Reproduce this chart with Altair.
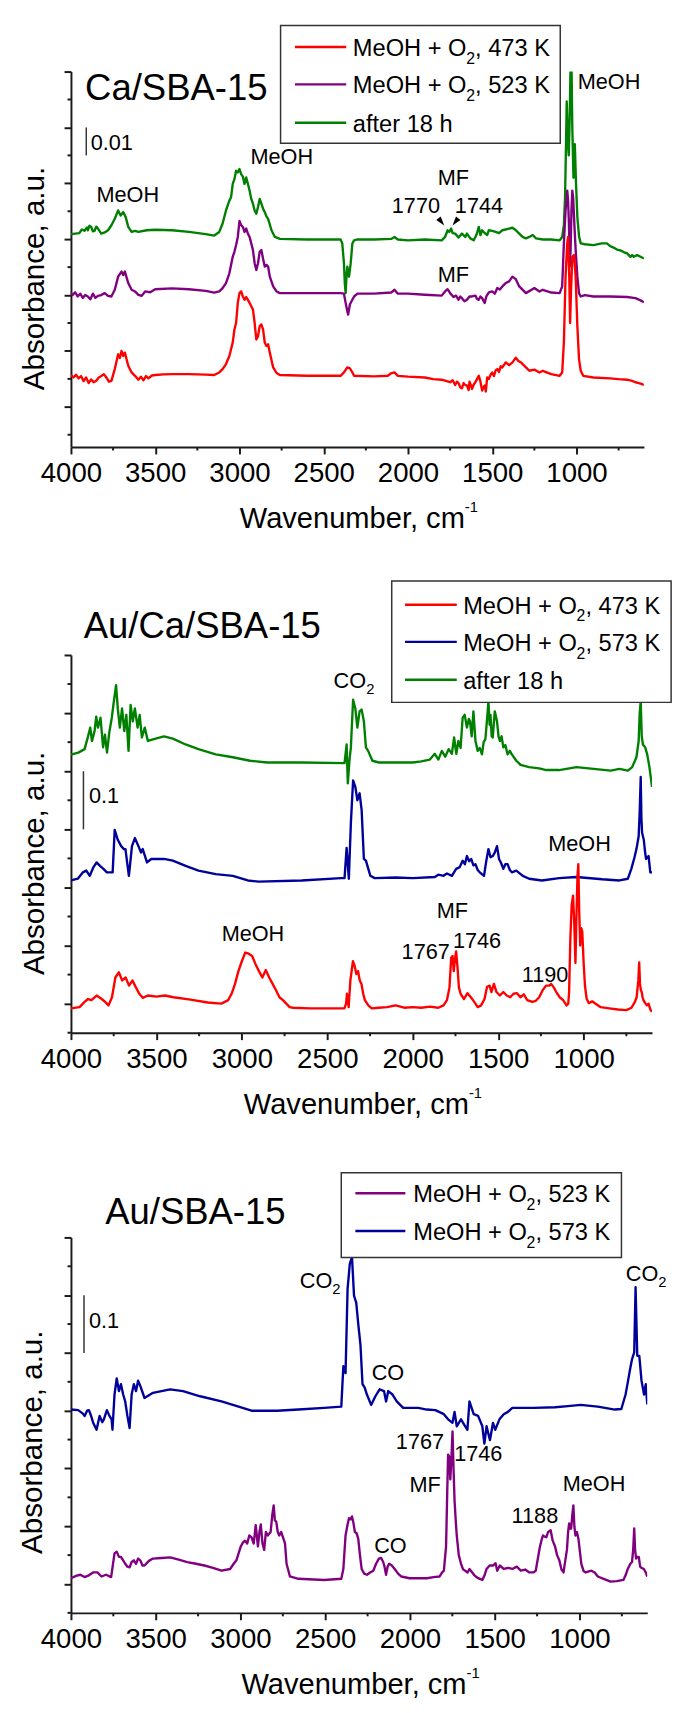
import altair as alt
import pandas as pd

FONT = "Liberation Sans"
INK = "#1a1a1a"

# ---------------- axis ticks ----------------
X_LABELED = [4000, 3500, 3000, 2500, 2000, 1500, 1000]
X_MINOR = [3750, 3250, 2750, 2250, 1750, 1250, 750]

# ---------------- panel 1 : Ca/SBA-15 (units of 0.01 a.u.) ----------------
P1_RED = [(4000,1.14),(3985,1.05),(3970,1.15),(3955,1.02),(3940,1.1),(3925,0.92),(3910,1.05),(3895,0.85),(3880,0.98),(3865,0.88),(3850,0.93),(3835,1.05),(3820,1.1),(3805,1.17),(3790,1.05),(3775,0.9),(3760,0.93),(3740,1.35),(3720,1.88),(3710,1.75),(3700,2.0),(3690,1.82),(3680,1.94),(3670,1.7),(3660,1.47),(3640,1.23),(3620,1.11),(3600,0.97),(3585,1.08),(3570,0.95),(3555,1.1),(3540,1.02),(3520,1.12),(3500,1.14),(3450,1.16),(3400,1.17),(3300,1.17),(3200,1.15),(3150,1.14),(3120,1.23),(3100,1.35),(3080,1.53),(3060,1.82),(3040,2.3),(3030,2.77),(3020,3.0),(3010,3.72),(3000,4.07),(2990,4.13),(2980,3.95),(2970,3.83),(2960,3.93),(2950,3.83),(2940,3.72),(2930,3.6),(2920,3.48),(2910,3.0),(2900,2.41),(2890,2.53),(2880,2.89),(2870,2.95),(2860,2.77),(2850,2.3),(2840,2.18),(2830,2.24),(2820,1.94),(2800,1.41),(2780,1.21),(2760,1.14),(2600,1.11),(2400,1.11),(2380,1.23),(2360,1.41),(2345,1.38),(2330,1.23),(2320,1.11),(2200,1.09),(2120,1.11),(2100,1.2),(2080,1.23),(2060,1.11),(2000,1.08),(1900,1.05),(1850,0.99),(1800,0.97),(1750,0.88),(1735,0.95),(1720,0.78),(1710,0.9),(1700,0.85),(1690,0.7),(1680,0.66),(1670,0.85),(1665,0.8),(1650,0.76),(1640,0.6),(1635,0.9),(1625,0.75),(1620,0.64),(1610,0.8),(1600,0.88),(1590,1.0),(1580,1.11),(1570,0.9),(1560,0.58),(1552,0.7),(1545,0.76),(1538,0.55),(1530,1.05),(1520,1.0),(1510,1.15),(1500,1.23),(1490,1.1),(1480,1.3),(1470,1.35),(1460,1.25),(1450,1.45),(1440,1.41),(1420,1.59),(1400,1.49),(1380,1.59),(1360,1.76),(1345,1.64),(1330,1.59),(1300,1.41),(1280,1.29),(1250,1.33),(1220,1.23),(1200,1.29),(1150,1.17),(1100,1.11),(1085,1.23),(1075,2.3),(1065,4.66),(1055,5.85),(1050,6.08),(1043,4.66),(1038,3.0),(1033,4.07),(1025,5.37),(1015,5.43),(1005,4.66),(995,2.89),(985,1.7),(975,1.29),(960,1.11),(900,1.05),(800,1.02),(750,0.99),(700,0.97),(670,0.93),(650,0.88),(630,0.85),(615,0.82),(600,0.78)]
P1_PURPLE = [(4000,4.07),(3990,4.0),(3975,4.1),(3960,3.95),(3945,4.05),(3930,3.9),(3915,4.0),(3900,3.95),(3885,3.85),(3870,4.05),(3855,3.9),(3840,3.97),(3820,4.0),(3800,4.07),(3780,3.97),(3760,3.95),(3740,4.19),(3720,4.66),(3700,4.84),(3690,4.72),(3680,4.84),(3660,4.43),(3640,4.19),(3620,4.13),(3600,4.01),(3580,3.97),(3560,4.13),(3530,4.1),(3500,4.21),(3400,4.24),(3300,4.21),(3200,4.15),(3150,4.09),(3120,4.13),(3100,4.25),(3080,4.43),(3060,4.78),(3040,5.37),(3030,5.55),(3020,5.79),(3010,6.08),(3000,6.65),(2990,6.5),(2980,6.44),(2970,6.26),(2960,6.38),(2950,6.2),(2940,6.08),(2930,5.85),(2920,5.61),(2910,5.14),(2900,4.9),(2890,5.14),(2880,5.55),(2870,5.61),(2860,5.3),(2850,5.02),(2840,5.08),(2830,5.02),(2820,4.66),(2800,4.31),(2780,4.13),(2760,4.07),(2600,4.07),(2400,4.07),(2380,4.05),(2370,3.72),(2360,3.42),(2355,3.3),(2345,3.66),(2335,3.78),(2320,3.95),(2300,4.05),(2200,4.05),(2100,4.09),(2080,4.19),(2060,4.05),(2000,4.05),(1900,4.01),(1800,3.98),(1780,4.13),(1765,4.21),(1750,4.07),(1730,3.93),(1715,3.98),(1700,3.83),(1690,3.95),(1680,3.89),(1665,3.78),(1650,3.83),(1635,3.95),(1620,3.95),(1600,3.98),(1590,3.86),(1580,3.83),(1570,3.95),(1560,3.89),(1545,3.72),(1535,3.95),(1520,4.1),(1500,4.13),(1485,4.05),(1470,4.25),(1455,4.2),(1440,4.31),(1420,4.43),(1400,4.49),(1380,4.66),(1360,4.57),(1340,4.31),(1300,4.07),(1250,4.25),(1220,4.13),(1200,4.19),(1150,4.09),(1100,4.07),(1085,4.31),(1075,5.85),(1065,7.03),(1055,7.74),(1050,7.38),(1045,6.56),(1040,5.02),(1035,5.61),(1030,7.03),(1025,7.74),(1020,7.5),(1012,6.44),(1005,5.61),(995,4.66),(985,4.07),(975,3.95),(950,4.0),(900,3.95),(800,3.95),(700,3.93),(650,3.89),(620,3.81),(600,3.74)]
P1_GREEN = [(4000,6.18),(3950,6.22),(3935,6.35),(3920,6.3),(3905,6.42),(3900,6.32),(3890,6.48),(3880,6.44),(3870,6.28),(3860,6.3),(3850,6.45),(3840,6.38),(3820,6.2),(3800,6.24),(3780,6.32),(3760,6.5),(3740,6.73),(3720,7.03),(3705,6.85),(3690,6.97),(3675,6.79),(3660,6.44),(3640,6.26),(3620,6.3),(3600,6.26),(3550,6.32),(3500,6.34),(3400,6.32),(3300,6.26),(3200,6.18),(3150,6.13),(3120,6.26),(3100,6.56),(3080,7.03),(3060,7.38),(3050,7.5),(3040,7.98),(3030,8.15),(3020,8.45),(3010,8.39),(3000,8.51),(2990,8.33),(2980,8.24),(2970,7.98),(2960,8.21),(2950,7.98),(2940,7.74),(2930,7.44),(2920,7.27),(2910,7.03),(2900,6.91),(2890,7.15),(2880,7.44),(2870,7.27),(2860,7.09),(2850,6.97),(2840,6.82),(2830,6.73),(2810,6.32),(2790,6.08),(2760,6.01),(2600,5.99),(2420,5.99),(2400,5.99),(2390,5.85),(2380,5.14),(2375,4.43),(2370,4.07),(2365,4.66),(2360,5.02),(2355,4.78),(2350,4.66),(2340,5.14),(2330,5.85),(2320,5.96),(2300,5.99),(2200,5.99),(2100,6.01),(2080,6.08),(2060,5.99),(2000,5.96),(1900,5.99),(1800,5.96),(1780,6.08),(1765,6.32),(1755,6.26),(1744,6.38),(1735,6.22),(1720,6.2),(1700,6.06),(1680,6.2),(1660,6.08),(1650,6.2),(1630,6.03),(1610,5.96),(1600,6.08),(1590,6.22),(1580,6.44),(1570,6.15),(1560,6.32),(1545,6.22),(1530,6.15),(1520,6.32),(1500,6.3),(1480,6.26),(1460,6.22),(1440,6.32),(1400,6.38),(1380,6.41),(1360,6.32),(1340,6.2),(1320,6.08),(1300,6.03),(1280,6.08),(1260,6.15),(1240,6.03),(1200,5.99),(1150,5.99),(1100,5.96),(1085,6.08),(1075,6.5),(1068,7.5),(1062,9.5),(1058,10.93),(1052,9.6),(1046,9.0),(1040,10.5),(1035,12.4),(1030,12.4),(1025,10.0),(1018,8.2),(1010,9.4),(1003,8.0),(995,6.8),(985,6.1),(975,5.85),(950,5.82),(900,5.79),(850,5.85),(820,5.85),(800,5.75),(780,5.7),(760,5.63),(740,5.6),(720,5.54),(700,5.49),(680,5.37),(670,5.43),(660,5.37),(640,5.43),(620,5.37),(600,5.31)]

# ---------------- panel 2 : Au/Ca/SBA-15 (units of 0.1 a.u.) ----------------
P2_RED = [(4000,-0.08),(3950,-0.06),(3920,0.03),(3900,0.08),(3880,0.06),(3850,0.14),(3820,0.08),(3800,0.03),(3780,-0.03),(3760,0.11),(3740,0.45),(3720,0.54),(3700,0.4),(3680,0.45),(3660,0.31),(3640,0.4),(3620,0.28),(3600,0.17),(3580,0.1),(3550,0.14),(3500,0.12),(3450,0.14),(3400,0.11),(3300,0.07),(3200,0.02),(3120,0.0),(3080,0.06),(3060,0.17),(3040,0.34),(3020,0.56),(3000,0.73),(2980,0.88),(2960,0.86),(2940,0.82),(2920,0.68),(2900,0.56),(2880,0.45),(2860,0.58),(2840,0.45),(2820,0.34),(2800,0.23),(2780,0.11),(2760,0.06),(2740,0.0),(2720,-0.06),(2700,-0.07),(2600,-0.08),(2400,-0.08),(2390,0.0),(2385,0.17),(2375,-0.06),(2365,0.4),(2350,0.73),(2340,0.65),(2330,0.51),(2320,0.56),(2310,0.4),(2300,0.34),(2290,0.17),(2280,0.06),(2260,-0.03),(2240,-0.08),(2200,-0.07),(2150,-0.06),(2100,-0.03),(2050,-0.07),(2000,-0.06),(1950,-0.07),(1900,-0.05),(1850,-0.07),(1820,-0.03),(1800,0.06),(1785,0.28),(1775,0.79),(1767,0.82),(1760,0.56),(1752,0.79),(1746,0.9),(1738,0.62),(1730,0.28),(1720,0.17),(1700,0.08),(1680,0.18),(1660,0.11),(1640,0.03),(1620,-0.06),(1600,-0.03),(1580,0.08),(1565,0.29),(1550,0.31),(1540,0.2),(1525,0.34),(1510,0.2),(1490,0.14),(1470,0.2),(1450,0.14),(1430,0.11),(1410,0.17),(1390,0.18),(1370,0.11),(1350,0.16),(1330,0.06),(1300,0.03),(1280,0.05),(1260,0.11),(1240,0.23),(1220,0.31),(1200,0.31),(1190,0.34),(1175,0.28),(1160,0.2),(1140,0.11),(1120,0.06),(1100,-0.03),(1090,0.0),(1085,0.2),(1078,1.1),(1070,1.7),(1062,1.86),(1055,1.4),(1048,0.7),(1042,1.5),(1036,2.2),(1031,2.4),(1026,1.6),(1020,1.0),(1014,1.3),(1008,1.24),(1000,0.7),(992,0.3),(982,0.08),(970,0.01),(950,0.04),(930,0.0),(900,-0.06),(850,-0.08),(800,-0.1),(750,-0.11),(720,-0.07),(700,0.03),(690,0.11),(680,0.4),(675,0.71),(670,0.34),(665,0.23),(660,0.2),(655,0.11),(650,0.06),(640,0.01),(630,-0.03),(620,0.0),(610,-0.1),(600,-0.14)]
P2_BLUE = [(4000,2.12),(3960,2.15),(3930,2.26),(3910,2.29),(3890,2.2),(3870,2.34),(3850,2.43),(3830,2.37),(3810,2.32),(3790,2.26),(3770,2.26),(3756,2.26),(3744,2.99),(3726,2.82),(3706,2.71),(3690,2.66),(3681,2.66),(3670,2.4),(3661,2.2),(3643,2.71),(3626,2.85),(3605,2.71),(3590,2.6),(3580,2.66),(3555,2.43),(3530,2.49),(3500,2.49),(3455,2.49),(3404,2.46),(3329,2.37),(3254,2.29),(3153,2.23),(3053,2.2),(2965,2.12),(2902,2.1),(2650,2.12),(2420,2.16),(2399,2.16),(2387,2.68),(2374,2.15),(2362,3.11),(2349,3.84),(2336,3.73),(2324,3.5),(2311,3.62),(2299,3.33),(2286,2.49),(2274,2.46),(2248,2.2),(2223,2.16),(2100,2.17),(2000,2.16),(1871,2.18),(1850,2.22),(1820,2.2),(1800,2.24),(1771,2.2),(1746,2.32),(1725,2.35),(1708,2.46),(1695,2.4),(1683,2.54),(1670,2.45),(1658,2.49),(1645,2.38),(1633,2.4),(1620,2.3),(1608,2.26),(1583,2.2),(1570,2.45),(1557,2.66),(1545,2.52),(1532,2.54),(1520,2.6),(1507,2.71),(1495,2.49),(1483,2.42),(1470,2.32),(1458,2.4),(1445,2.4),(1432,2.3),(1420,2.26),(1394,2.29),(1356,2.2),(1319,2.15),(1244,2.12),(1143,2.16),(1042,2.18),(892,2.14),(791,2.12),(741,2.15),(721,2.32),(703,2.51),(691,2.66),(678,2.88),(672,3.3),(666,3.9),(662,3.2),(658,2.94),(648,2.82),(640,2.6),(635,2.49),(620,2.54),(610,2.26),(600,2.26)]
P2_GREEN = [(4000,4.29),(3995,4.29),(3957,4.32),(3920,4.38),(3900,4.6),(3887,4.75),(3877,4.52),(3862,4.69),(3852,4.94),(3842,4.75),(3827,4.92),(3812,4.41),(3801,4.63),(3789,4.32),(3776,4.66),(3761,4.92),(3749,5.2),(3736,5.48),(3726,5.08),(3714,4.75),(3701,5.08),(3688,4.69),(3676,4.97),(3663,4.35),(3651,5.14),(3638,4.86),(3626,5.08),(3610,4.75),(3598,4.97),(3585,4.58),(3568,4.75),(3550,4.52),(3505,4.56),(3455,4.6),(3404,4.56),(3329,4.46),(3254,4.38),(3153,4.29),(3053,4.24),(2952,4.18),(2852,4.15),(2650,4.15),(2399,4.14),(2387,4.46),(2380,3.79),(2370,4.2),(2362,4.41),(2349,5.23),(2336,5.08),(2324,4.75),(2311,5.03),(2299,5.06),(2286,4.86),(2274,4.41),(2261,4.35),(2236,4.18),(2198,4.15),(2000,4.15),(1950,4.17),(1900,4.2),(1871,4.3),(1850,4.2),(1830,4.35),(1810,4.25),(1790,4.38),(1771,4.3),(1758,4.58),(1745,4.3),(1733,4.52),(1720,4.4),(1708,4.92),(1696,4.97),(1683,4.75),(1672,4.9),(1665,4.86),(1655,4.6),(1645,5.03),(1633,4.52),(1620,4.35),(1608,4.4),(1595,4.29),(1585,4.5),(1575,4.55),(1565,4.9),(1557,5.2),(1550,4.8),(1545,4.97),(1538,4.6),(1532,4.58),(1520,5.03),(1507,4.86),(1498,4.6),(1490,4.52),(1480,4.6),(1470,4.41),(1458,4.45),(1445,4.29),(1432,4.35),(1420,4.29),(1394,4.18),(1369,4.11),(1319,4.07),(1260,4.05),(1218,4.02),(1143,4.02),(1042,4.07),(942,4.04),(841,4.01),(791,4.04),(741,4.01),(716,4.07),(691,4.24),(678,4.52),(672,5.0),(666,5.2),(660,4.6),(653,4.46),(640,4.41),(628,4.29),(615,4.07),(600,3.73)]

# ---------------- panel 3 : Au/SBA-15 (units of 0.1 a.u.) ----------------
P3_PURPLE = [(4000,0.1),(3970,0.14),(3945,0.16),(3920,0.12),(3894,0.15),(3870,0.2),(3844,0.2),(3820,0.13),(3793,0.16),(3763,0.12),(3743,0.53),(3730,0.56),(3717,0.47),(3705,0.47),(3692,0.41),(3680,0.35),(3667,0.3),(3654,0.29),(3642,0.38),(3629,0.41),(3616,0.35),(3604,0.44),(3591,0.41),(3578,0.32),(3566,0.32),(3540,0.4),(3516,0.44),(3465,0.45),(3415,0.46),(3364,0.42),(3314,0.38),(3263,0.35),(3213,0.32),(3162,0.28),(3112,0.23),(3061,0.26),(3040,0.35),(3024,0.41),(2998,0.65),(2985,0.72),(2973,0.75),(2960,0.7),(2948,0.84),(2935,0.81),(2922,0.7),(2910,1.02),(2897,0.65),(2888,0.9),(2880,1.03),(2870,0.7),(2860,0.59),(2850,0.9),(2839,0.84),(2822,0.9),(2812,1.2),(2804,1.36),(2797,1.1),(2789,1.08),(2780,0.9),(2771,0.84),(2760,0.9),(2746,0.78),(2737,0.7),(2728,0.35),(2708,0.13),(2658,0.09),(2506,0.07),(2405,0.09),(2393,0.26),(2380,0.84),(2370,1.0),(2360,1.14),(2350,1.12),(2342,1.17),(2333,1.05),(2325,0.9),(2315,0.88),(2305,0.78),(2295,0.5),(2285,0.26),(2270,0.18),(2254,0.16),(2235,0.2),(2216,0.23),(2200,0.35),(2183,0.44),(2170,0.45),(2158,0.38),(2150,0.3),(2141,0.16),(2132,0.3),(2123,0.35),(2110,0.33),(2090,0.26),(2070,0.18),(2052,0.13),(2002,0.1),(1950,0.1),(1901,0.1),(1860,0.12),(1825,0.13),(1810,0.2),(1800,0.23),(1787,0.65),(1780,1.6),(1775,2.24),(1768,2.2),(1762,1.81),(1755,2.2),(1749,2.64),(1743,2.0),(1737,1.45),(1730,1.1),(1724,0.84),(1712,0.5),(1699,0.35),(1686,0.25),(1674,0.23),(1660,0.2),(1649,0.26),(1620,0.15),(1598,0.1),(1573,0.07),(1560,0.15),(1548,0.26),(1530,0.32),(1510,0.32),(1495,0.36),(1485,0.23),(1470,0.32),(1447,0.26),(1420,0.28),(1396,0.26),(1370,0.3),(1346,0.23),(1320,0.25),(1296,0.2),(1270,0.2),(1258,0.23),(1245,0.45),(1233,0.65),(1222,0.78),(1215,0.84),(1205,0.82),(1195,0.81),(1185,0.9),(1170,0.93),(1158,0.75),(1144,0.65),(1132,0.5),(1119,0.41),(1106,0.25),(1094,0.2),(1084,0.4),(1074,0.59),(1067,0.9),(1061,1.05),(1055,0.96),(1049,0.96),(1042,1.2),(1036,1.36),(1030,1.0),(1024,0.84),(1015,0.9),(1006,0.78),(997,0.55),(989,0.35),(975,0.22),(963,0.2),(945,0.22),(930,0.23),(910,0.2),(892,0.13),(850,0.08),(816,0.04),(780,0.05),(741,0.07),(728,0.15),(715,0.26),(700,0.35),(690,0.38),(683,0.6),(677,0.96),(672,0.6),(666,0.44),(658,0.47),(650,0.47),(642,0.3),(634,0.28),(620,0.26),(609,0.2),(600,0.13)]
P3_BLUE = [(4000,3.02),(3957,3.01),(3930,2.95),(3919,2.91),(3905,3.0),(3894,3.01),(3880,2.9),(3869,2.79),(3849,2.67),(3831,2.91),(3815,2.8),(3806,2.85),(3788,3.01),(3773,2.91),(3760,2.85),(3755,2.67),(3743,3.28),(3730,3.56),(3717,3.34),(3705,3.46),(3692,3.28),(3680,3.16),(3667,2.91),(3654,2.7),(3642,3.28),(3629,3.46),(3616,3.34),(3604,3.52),(3591,3.43),(3566,3.22),(3516,3.31),(3415,3.37),(3339,3.34),(3238,3.25),(3112,3.16),(3011,3.07),(2935,3.0),(2784,3.0),(2658,3.02),(2506,3.05),(2405,3.07),(2393,3.77),(2380,3.65),(2368,5.11),(2355,5.54),(2342,5.66),(2330,4.99),(2317,4.87),(2305,4.5),(2292,4.14),(2280,3.46),(2267,3.4),(2254,3.28),(2229,3.1),(2204,3.25),(2179,3.37),(2153,3.34),(2141,3.16),(2128,3.34),(2103,3.28),(2078,3.16),(2040,3.05),(1951,3.05),(1901,3.02),(1850,3.01),(1800,2.94),(1775,2.85),(1749,2.79),(1737,2.98),(1724,2.73),(1699,2.85),(1674,2.73),(1661,2.67),(1649,3.16),(1624,2.94),(1598,2.91),(1573,2.73),(1561,2.43),(1548,2.73),(1528,2.49),(1510,2.79),(1497,2.67),(1472,2.85),(1447,2.94),(1422,2.98),(1396,3.05),(1270,3.05),(1144,3.06),(1068,3.08),(993,3.1),(892,3.07),(791,3.02),(753,3.03),(728,3.28),(715,3.49),(702,3.71),(690,3.89),(677,4.01),(669,5.14),(659,3.95),(647,3.95),(634,3.52),(619,3.28),(609,3.46),(600,3.11)]

# ---------------- annotations (text, wavenumber, value) ----------------
P1_NOTES = [("MeOH", 3663, 7.32), ("MeOH", 2749, 8.68), ("MF", 1731, 7.94), ("1770", 1953, 6.92),
            ("1744", 1579, 6.92), ("MF", 1731, 4.45), ("MeOH", 807, 11.39)]
P1_ARROWS = [(1802, 6.62), (1719, 6.62)]
P2_NOTES = [("MeOH", 1024, 2.63), ("MF", 1768, 1.47), ("1767", 1924, 0.76), ("1746", 1624, 0.96),
            ("1190", 1226, 0.37), ("MeOH", 2935, 1.07)]
P2_CO2 = [(2463, 5.43)]
P3_NOTES = [("CO", 2130, 3.54), ("1767", 1941, 2.33), ("1746", 1597, 2.13), ("MF", 1911, 1.6),
            ("MeOH", 914, 1.61), ("1188", 1263, 1.06), ("CO", 2115, 0.53)]
P3_CO2 = [(2650, 5.12), (727, 5.25)]

LEG_473 = ("MeOH + O", "2", ", 473 K")
LEG_523 = ("MeOH + O", "2", ", 523 K")
LEG_573 = ("MeOH + O", "2", ", 573 K")
LEG_18H = ("after 18 h", "", "")

RED, PURPLE, GREEN, BLUE = "#ff0000", "#800080", "#008000", "#00009a"

ONE = pd.DataFrame({"k": [0]})


def vtext(txt, x, y, size, align="left"):
    return alt.Chart(ONE).mark_text(text=txt, font=FONT, fontSize=size, align=align,
                                    baseline="alphabetic", color="black").encode(
        x=alt.value(x), y=alt.value(y))


def panel(cfg):
    W, H = cfg["W"], cfg["H"]
    xs = alt.Scale(domain=[4000, 600], nice=False, zero=False)
    ys = alt.Scale(domain=cfg["ydom"], nice=False, zero=False)
    xaxis = alt.Axis(values=X_LABELED, title=None, grid=False, format="d",
                     labelFont=FONT, labelFontSize=28, labelColor="black",
                     labelPadding=6, labelFlush=False, labelOverlap=False,
                     tickSize=7, tickWidth=2, tickColor=INK,
                     domainWidth=2, domainColor=INK)
    yaxis = alt.Axis(values=cfg["ymajor"], labels=False, grid=False,
                     title="Absorbance, a.u.", titleFont=FONT, titleFontSize=30,
                     titleFontWeight="normal", titleColor="black", titleAngle=270,
                     titleAlign="center", titleBaseline="alphabetic",
                     titleX=cfg["tx"], titleY=cfg["ty"],
                     tickSize=7, tickWidth=2, tickColor=INK,
                     domainWidth=2, domainColor=INK)

    def X(f):
        return alt.X(f, type="quantitative", scale=xs, axis=xaxis)

    def Y(f):
        return alt.Y(f, type="quantitative", scale=ys, axis=yaxis)

    layers = []
    for color, pts in cfg["curves"]:
        df = pd.DataFrame(pts, columns=["wn", "a"])
        layers.append(alt.Chart(df).mark_line(color=color, strokeWidth=2.4, clip=True,
                                              strokeJoin="round")
                      .encode(x=X("wn"), y=Y("a")))

    # minor ticks
    layers.append(alt.Chart(pd.DataFrame({"v": cfg["yminor"]})).mark_rule(color=INK, strokeWidth=2)
                  .encode(y=Y("v"), x=alt.value(0), x2=alt.value(-3.5)))
    layers.append(alt.Chart(pd.DataFrame({"v": X_MINOR})).mark_rule(color=INK, strokeWidth=2)
                  .encode(x=X("v"), y=alt.value(H), y2=alt.value(H + 3.5)))

    # scale bar
    bar = pd.DataFrame([cfg["bar"]], columns=["wn", "u1", "u2"])
    layers.append(alt.Chart(bar).mark_rule(color="#333333", strokeWidth=1.5)
                  .encode(x=X("wn"), y=Y("u1"), y2=alt.Y2("u2")))
    sl = pd.DataFrame([cfg["barlabel"]], columns=["t", "wn", "u"])
    layers.append(alt.Chart(sl).mark_text(font=FONT, fontSize=22, align="left", baseline="alphabetic",
                                          color="black").encode(x=X("wn"), y=Y("u"), text="t:N"))

    # panel title
    tl = pd.DataFrame([cfg["title"]], columns=["t", "wn", "u"])
    layers.append(alt.Chart(tl).mark_text(font=FONT, fontSize=37, align="left", baseline="alphabetic",
                                          color="black").encode(x=X("wn"), y=Y("u"), text="t:N"))

    # annotations
    nd = pd.DataFrame(cfg["notes"], columns=["t", "wn", "u"])
    layers.append(alt.Chart(nd).mark_text(font=FONT, fontSize=22, align="center", baseline="alphabetic",
                                          color="black").encode(x=X("wn"), y=Y("u"), text="t:N"))
    if cfg.get("co2"):
        cd = pd.DataFrame(cfg["co2"], columns=["wn", "u"])
        layers.append(alt.Chart(cd).mark_text(text="CO", font=FONT, fontSize=22, align="left",
                                              baseline="alphabetic", color="black")
                      .encode(x=X("wn"), y=Y("u")))
        layers.append(alt.Chart(cd).mark_text(text="2", font=FONT, fontSize=15, align="left",
                                              baseline="alphabetic", color="black", dx=33, dy=6)
                      .encode(x=X("wn"), y=Y("u")))
    if cfg.get("arrows"):
        ad = pd.DataFrame(cfg["arrows"], columns=["wn", "u"])
        tri = "M -0.6 -1 L 0.6 -1 L 0 1 Z"
        layers.append(alt.Chart(ad.iloc[[0]]).mark_point(shape=tri, filled=True, size=90, color="black",
                                                        opacity=1, angle=322)
                      .encode(x=X("wn"), y=Y("u")))
        layers.append(alt.Chart(ad.iloc[[1]]).mark_point(shape=tri, filled=True, size=90, color="black",
                                                        opacity=1, angle=38)
                      .encode(x=X("wn"), y=Y("u")))

    # legend box
    lg = cfg["legend"]
    layers.append(alt.Chart(ONE).mark_rect(fill="white", stroke="#333333", strokeWidth=1.5)
                  .encode(x=alt.value(lg["x1"]), x2=alt.value(lg["x2"]),
                          y=alt.value(lg["y1"]), y2=alt.value(lg["y2"])))
    for (main, sub, tail), color, ey in zip(lg["labels"], lg["colors"], lg["ys"]):
        layers.append(alt.Chart(ONE).mark_rule(color=color, strokeWidth=2.5)
                      .encode(x=alt.value(lg["lx1"]), x2=alt.value(lg["lx2"]), y=alt.value(ey)))
        layers.append(vtext(main, lg["tx"], ey + 9, 24))
        if sub:
            layers.append(vtext(sub, lg["tx"] + 115, ey + 17, 16))
            layers.append(vtext(tail, lg["tx"] + 124, ey + 9, 24))

    # x axis title with superscript
    layers.append(vtext("Wavenumber, cm", W / 2 + 109, H + 82.5, 29.5, align="right"))
    layers.append(vtext("-1", W / 2 + 109, H + 66, 15))

    # invisible frame fixing this panel's layout box
    b = cfg["box"]
    layers.append(alt.Chart(ONE).mark_rule(opacity=0, strokeOpacity=0)
                  .encode(x=alt.value(b[0]), x2=alt.value(b[1]), y=alt.value(b[2]), y2=alt.value(b[3])))

    return alt.layer(*layers).properties(width=W, height=H)


p1 = panel(dict(
    W=581.4, H=381, ydom=[-1.44, 12], ymajor=[0, 2, 4, 6, 8, 10, 12], yminor=[-1, 1, 3, 5, 7, 9, 11],
    tx=-27.7, ty=209.5,
    curves=[(GREEN, P1_GREEN), (PURPLE, P1_PURPLE), (RED, P1_RED)],
    bar=(3909, 10, 9), barlabel=("0.01", 3883, 9.2), title=("Ca/SBA-15", 3916, 10.97),
    notes=P1_NOTES, arrows=P1_ARROWS,
    legend=dict(x1=212.7, x2=496.5, y1=-46.7, y2=72.7, lx1=227.3, lx2=279.3, tx=286,
                ys=[-25, 13, 52], labels=[LEG_473, LEG_523, LEG_18H], colors=[RED, PURPLE, GREEN]),
    box=(-62.7, 616.3, -60, 490),
))

p2 = panel(dict(
    W=589.6, H=383.3, ydom=[-0.5, 6], ymajor=[0, 1, 2, 3, 4, 5, 6],
    yminor=[-0.5, 0.5, 1.5, 2.5, 3.5, 4.5, 5.5],
    tx=-27.5, ty=211,
    curves=[(GREEN, P2_GREEN), (BLUE, P2_BLUE), (RED, P2_RED)],
    bar=(3927, 4, 3), barlabel=("0.1", 3895, 3.45), title=("Au/Ca/SBA-15", 3925, 6.29),
    notes=P2_NOTES, co2=P2_CO2,
    legend=dict(x1=325.5, x2=609, y1=-75.1, y2=48.1, lx1=339, lx2=391.5, tx=398,
                ys=[-51, -13.3, 25.1], labels=[LEG_473, LEG_573, LEG_18H], colors=[RED, BLUE, GREEN]),
    box=(-70, 609, -101.7, 498.3),
))

p3 = panel(dict(
    W=584.8, H=381, ydom=[-0.5, 6], ymajor=[0, 1, 2, 3, 4, 5, 6],
    yminor=[-0.5, 0.5, 1.5, 2.5, 3.5, 4.5, 5.5],
    tx=-29.7, ty=207.3,
    curves=[(BLUE, P3_BLUE), (PURPLE, P3_PURPLE)],
    bar=(3923, 5, 4), barlabel=("0.1", 3894, 4.44), title=("Au/SBA-15", 3798, 6.23),
    notes=P3_NOTES, co2=P3_CO2,
    legend=dict(x1=274.3, x2=558.6, y1=-65.7, y2=20.3, lx1=288.6, lx2=339.3, tx=347.3,
                ys=[-44.8, -6.5], labels=[LEG_523, LEG_573], colors=[PURPLE, BLUE]),
    box=(-71.7, 607.3, -91.7, 471.3),
))

chart = alt.vconcat(p1, p2, p3, spacing=0, padding=0, background="white").configure_view(stroke=None)

chart.save("out.html", embed_options={"renderer": "svg", "actions": False})
